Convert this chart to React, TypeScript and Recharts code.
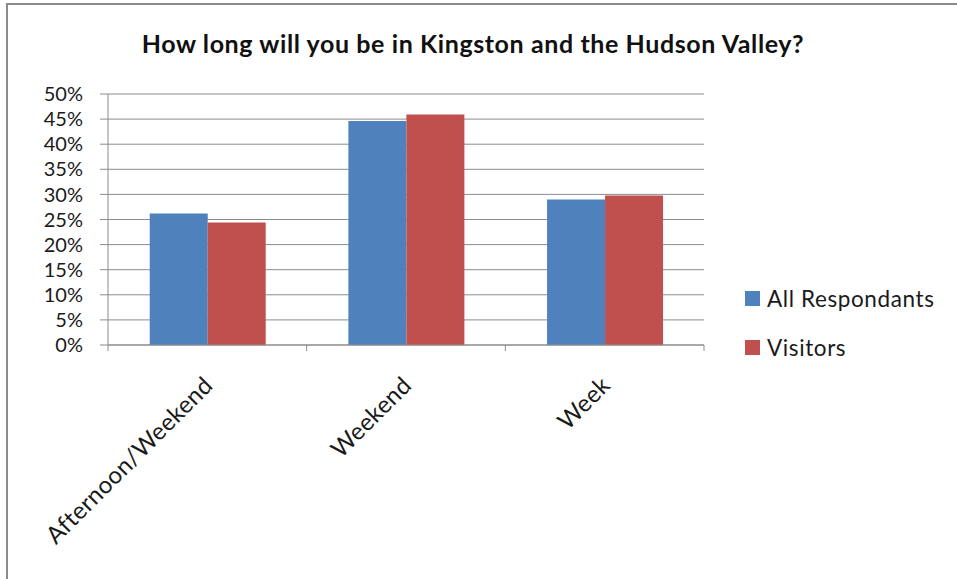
import React from 'react'
import { Bar, BarChart, CartesianGrid, XAxis, YAxis } from 'recharts'

const categories = ['Afternoon/Weekend', 'Weekend', 'Week']
const allRespondants = [26.2, 44.6, 29.0]
const visitors = [24.4, 45.9, 29.8]
const yTicks = [0, 5, 10, 15, 20, 25, 30, 35, 40, 45, 50]
const seriesNames = ['All Respondants', 'Visitors']
const seriesColors = ['#4F81BD', '#C0504D']

const data = categories.map((name, i) => ({
  name,
  all: allRespondants[i],
  visitors: visitors[i],
}))

const GRID = '#8c8c8c'
const FONT = 'Lato, "Open Sans", sans-serif'

function CategoryTick(props: any) {
  const { x, y, payload, index, visibleTicksCount } = props
  const half = payload?.offset ?? 0
  return (
    <g>
      <line x1={x - half} x2={x - half} y1={y} y2={y + 6} stroke={GRID} />
      {index === visibleTicksCount - 1 && (
        <line x1={x + half} x2={x + half} y1={y} y2={y + 6} stroke={GRID} />
      )}
      <text
        transform={`translate(${x + 7},${y + 42}) rotate(-45)`}
        textAnchor="end"
        fontSize={24}
        letterSpacing={0.3}
        fontFamily={FONT}
        fill="#1a1a1a"
      >
        {payload.value}
      </text>
    </g>
  )
}

export default function App() {
  return (
    <div style={{ position: 'absolute', left: 0, top: 0, width: 957, height: 579, background: '#fff' }}>
      <div
        style={{
          position: 'absolute',
          left: 6,
          top: 3,
          right: 0,
          bottom: 0,
          borderTop: '2px solid #8c8c8c',
          borderLeft: '2px solid #8c8c8c',
        }}
      />
      <div
        style={{
          position: 'absolute',
          left: 0,
          width: 946,
          top: 28,
          textAlign: 'center',
          fontFamily: FONT,
          fontWeight: 700,
          fontSize: 25,
          letterSpacing: 0.6,
          color: '#111',
        }}
      >
        How long will you be in Kingston and the Hudson Valley?
      </div>
      <div style={{ position: 'absolute', left: 0, top: 0 }}>
        <BarChart
          width={957}
          height={579}
          data={data}
          margin={{ top: 94, right: 253, bottom: 204, left: 0 }}
          barCategoryGap="21%"
          barGap={0}
        >
          <CartesianGrid vertical={false} stroke={GRID} strokeWidth={1} />
          <XAxis
            dataKey="name"
            height={30}
            interval={0}
            tickLine={false}
            tickSize={0}
            tickMargin={0}
            axisLine={{ stroke: GRID }}
            tick={<CategoryTick />}
          />
          <YAxis
            width={108}
            domain={[0, 50]}
            ticks={yTicks}
            interval={0}
            tickSize={8}
            tickMargin={17}
            tickLine={{ stroke: GRID }}
            axisLine={{ stroke: GRID }}
            tick={{ fontSize: 20, fontFamily: FONT, fill: '#1a1a1a' }}
            tickFormatter={(v) => `${v}%`}
          />
          <Bar dataKey="all" name={seriesNames[0]} fill={seriesColors[0]} isAnimationActive={false} />
          <Bar dataKey="visitors" name={seriesNames[1]} fill={seriesColors[1]} isAnimationActive={false} />
        </BarChart>
      </div>
      <div
        style={{
          position: 'absolute',
          left: 745,
          top: 284,
          fontFamily: FONT,
          fontSize: 22.5,
          letterSpacing: 0.6,
          color: '#1a1a1a',
        }}
      >
        {seriesNames.map((n, i) => (
          <div key={n} style={{ display: 'flex', alignItems: 'center', height: 28, marginBottom: i === 0 ? 21 : 0 }}>
            <span style={{ display: 'inline-block', width: 15, height: 15, background: seriesColors[i], marginRight: 7 }} />
            <span>{n}</span>
          </div>
        ))}
      </div>
    </div>
  )
}
